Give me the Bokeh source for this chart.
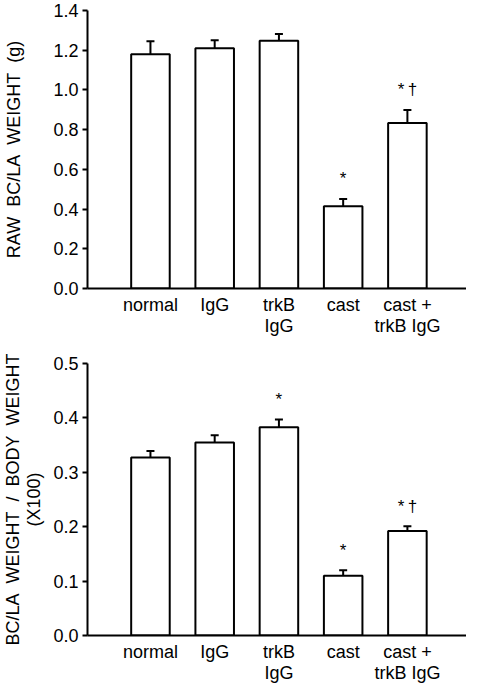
from bokeh.plotting import figure
from bokeh.models import Range1d, FixedTicker, PrintfTickFormatter, Whisker, TeeHead, ColumnDataSource
from bokeh.layouts import column
from bokeh.embed import file_html
from bokeh.resources import INLINE
from bokeh.core.properties import value

# ---- data ----
categories = ["normal", "IgG", "trkB\nIgG", "cast", "cast +\ntrkB IgG"]
positions = [1, 2, 3, 4, 5]

raw_mean = [1.18, 1.21, 1.248, 0.414, 0.833]
raw_sem = [0.065, 0.04, 0.034, 0.037, 0.066]
raw_marks = ["", "", "", "*", "*\u2009\u2020"]
raw_ticks = [0.0, 0.2, 0.4, 0.6, 0.8, 1.0, 1.2, 1.4]

rel_mean = [0.327, 0.355, 0.383, 0.110, 0.192]
rel_sem = [0.012, 0.013, 0.014, 0.010, 0.009]
rel_marks = ["", "", "*", "*", "*\u2009\u2020"]
rel_ticks = [0.0, 0.1, 0.2, 0.3, 0.4, 0.5]

FONT = "Liberation Sans"
FS = "18px"
NB = "\u00a0"


def make_panel(mean, sem, marks, ticks, ymax, ylabel, height, top, bottom, label_standoff):
    p = figure(width=466, height=height, x_range=Range1d(0.02, 5.92), y_range=Range1d(0, ymax),
               output_backend="svg", toolbar_location=None,
               min_border_left=78, min_border_right=0, min_border_top=top, min_border_bottom=bottom)
    p.outline_line_color = None
    p.xgrid.grid_line_color = None
    p.ygrid.grid_line_color = None
    p.background_fill_color = "white"
    p.border_fill_color = "white"

    src = ColumnDataSource(dict(x=positions, top=mean,
                                upper=[m + s for m, s in zip(mean, sem)], marks=marks))
    p.vbar(x="x", top="top", bottom=0, width=0.6, fill_color="white",
           line_color="black", line_width=2, source=src)
    w = Whisker(base="x", lower="top", upper="upper", source=src, line_width=2, line_color="black",
                upper_head=TeeHead(size=8, line_width=2, line_color="black"), lower_head=None)
    p.add_layout(w)
    p.text(x="x", y="upper", text="marks", source=src, text_align="center",
           text_baseline="middle", y_offset=-20, text_font=value(FONT),
           text_font_size="17px", text_color="black")

    xa = p.xaxis[0]
    xa.ticker = FixedTicker(ticks=positions)
    xa.major_label_overrides = {pos: c for pos, c in zip(positions, categories)}
    xa.major_tick_line_color = None
    xa.minor_tick_line_color = None
    xa.axis_line_width = 2
    xa.axis_line_color = "black"
    xa.major_label_text_font = FONT
    xa.major_label_text_font_size = FS
    xa.major_label_text_color = "black"
    xa.major_label_text_line_height = 1.07
    xa.major_label_standoff = 0

    ya = p.yaxis[0]
    ya.ticker = FixedTicker(ticks=ticks)
    ya.formatter = PrintfTickFormatter(format="%.1f")
    ya.major_tick_in = 0
    ya.major_tick_out = 5
    ya.major_tick_line_width = 2
    ya.minor_tick_line_color = None
    ya.axis_line_width = 2
    ya.axis_line_color = "black"
    ya.major_label_text_font = FONT
    ya.major_label_text_font_size = FS
    ya.major_label_text_color = "black"
    ya.major_label_standoff = 4
    ya.axis_label = ylabel
    ya.axis_label_text_font = FONT
    ya.axis_label_text_font_size = FS
    ya.axis_label_text_font_style = "normal"
    ya.axis_label_text_color = "black"
    ya.axis_label_text_line_height = 1.07
    ya.axis_label_standoff = label_standoff
    return p


p1 = make_panel(raw_mean, raw_sem, raw_marks, raw_ticks, 1.4,
                "RAW" + NB + " BC/LA" + NB + " WEIGHT" + NB + " (g)", 338, 10, 40, 26)
p2 = make_panel(rel_mean, rel_sem, rel_marks, rel_ticks, 0.5,
                "BC/LA" + NB + " WEIGHT" + NB + " /" + NB + " BODY" + NB + " WEIGHT\n(X100)",
                347, 25, 40, 6)

layout = column(p1, p2)
open("out.html", "w").write(file_html(layout, INLINE))
